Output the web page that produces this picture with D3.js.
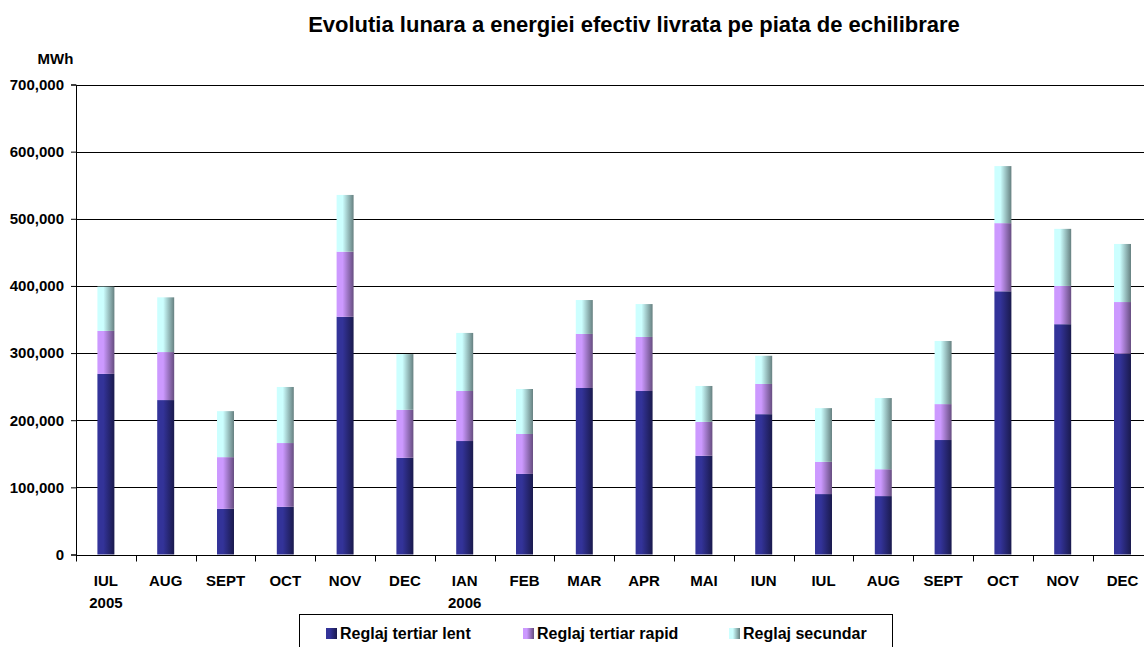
<!DOCTYPE html>
<html>
<head>
<meta charset="utf-8">
<script src="https://cdn.jsdelivr.net/npm/d3@7"></script>
<style>
  body { margin: 0; background: #fff; }
  text { font-family: "Liberation Sans", Arial, sans-serif; font-weight: bold; fill: #000; }
</style>
</head>
<body>
<svg id="chart" width="1144" height="647"></svg>
<script>
// month labels (first line) and year labels (second line)
var months = ["IUL", "AUG", "SEPT", "OCT", "NOV", "DEC", "IAN", "FEB", "MAR",
              "APR", "MAI", "IUN", "IUL", "AUG", "SEPT", "OCT", "NOV", "DEC"];
var years = ["2005", "", "", "", "", "", "2006", "", "", "", "", "", "", "", "", "", "", ""];

// MWh per month
var lent = [269000, 230000, 68000, 71000, 354000, 144000, 169000, 120000, 248000,
            243500, 147000, 209000, 90000, 87000, 170500, 392000, 343000, 299000];
var rapid = [64000, 71500, 77000, 95000, 97000, 71500, 74500, 59500, 80500,
             80500, 50500, 45000, 48000, 40000, 53500, 101500, 57000, 77000];
var secundar = [66000, 81500, 68500, 83500, 84500, 83000, 86500, 67000, 50500,
                49000, 53500, 42000, 80000, 106000, 94000, 85000, 85000, 86500];

var seriesNames = ["Reglaj tertiar lent", "Reglaj tertiar rapid", "Reglaj secundar"];
var yTicks = [0, 100000, 200000, 300000, 400000, 500000, 600000, 700000];

var width = 1144, height = 647;
var margin = { top: 84.5, left: 76, bottom: 554.5, right: 1152.4 };

var svg = d3.select("#chart");

var rows = months.map(function (m, i) {
    return { i: i, lent: lent[i], rapid: rapid[i], secundar: secundar[i] };
});

var keys = ["lent", "rapid", "secundar"];
var stacked = d3.stack().keys(keys)(rows);

var x = d3.scaleBand()
    .domain(d3.range(months.length))
    .range([margin.left, margin.right])
    .paddingInner(0.716)
    .paddingOuter(0.358);

var y = d3.scaleLinear()
    .domain([0, 700000])
    .range([margin.bottom, margin.top]);

// gradient fills, lighter on the left and darker on the right
var colors = { lent: "#333399", rapid: "#cc99ff", secundar: "#ccffff" };
var defs = svg.append("defs");
keys.forEach(function (k) {
    var c = d3.rgb(colors[k]);
    var dark = d3.rgb(c.r / 2, c.g / 2, c.b / 2);
    var g = defs.append("linearGradient").attr("id", "grad-" + k)
        .attr("x1", "0%").attr("x2", "100%").attr("y1", "0%").attr("y2", "0%");
    g.append("stop").attr("offset", "0%").attr("stop-color", c.toString());
    g.append("stop").attr("offset", "35%").attr("stop-color", c.toString());
    g.append("stop").attr("offset", "100%").attr("stop-color", dark.toString());
});

// horizontal gridlines
svg.append("g")
    .selectAll("line")
    .data(yTicks.slice(1))
    .join("line")
    .attr("x1", margin.left)
    .attr("x2", width)
    .attr("y1", d => Math.round(y(d)) + 0.5)
    .attr("y2", d => Math.round(y(d)) + 0.5)
    .attr("stroke", "#000")
    .attr("stroke-width", 1);

// bars
svg.append("g")
    .selectAll("g")
    .data(stacked)
    .join("g")
    .attr("fill", d => "url(#grad-" + d.key + ")")
    .selectAll("rect")
    .data(d => d)
    .join("rect")
    .attr("x", d => x(d.data.i))
    .attr("y", d => y(d[1]))
    .attr("height", d => y(d[0]) - y(d[1]))
    .attr("width", x.bandwidth());

// y axis
var yAxis = svg.append("g")
    .attr("transform", "translate(" + margin.left + ",0)")
    .call(d3.axisLeft(y).tickValues(yTicks).tickFormat(d3.format(",")).tickSize(5).tickPadding(7));
yAxis.select(".domain").attr("stroke", "#000");
yAxis.selectAll("text").style("font-size", "15px").attr("font-family", null);

// x axis with ticks on the category boundaries
var xAxisY = Math.round(margin.bottom) + 0.5;
svg.append("line")
    .attr("x1", margin.left).attr("x2", width)
    .attr("y1", xAxisY).attr("y2", xAxisY)
    .attr("stroke", "#000");
svg.append("g")
    .selectAll("line")
    .data(d3.range(months.length + 1))
    .join("line")
    .attr("x1", d => Math.round(x(d === months.length ? d - 1 : d) - x.step() * x.paddingOuter() + (d === months.length ? x.step() : 0)) + 0.5)
    .attr("x2", d => Math.round(x(d === months.length ? d - 1 : d) - x.step() * x.paddingOuter() + (d === months.length ? x.step() : 0)) + 0.5)
    .attr("y1", xAxisY)
    .attr("y2", xAxisY + 6)
    .attr("stroke", "#000");

var xl = svg.append("g")
    .selectAll("text")
    .data(d3.range(months.length))
    .join("text")
    .attr("x", d => x(d) + x.bandwidth() / 2)
    .attr("text-anchor", "middle")
    .style("font-size", "15px");
xl.append("tspan").attr("x", d => x(d) + x.bandwidth() / 2).attr("y", 586).text(d => months[d]);
xl.append("tspan").attr("x", d => x(d) + x.bandwidth() / 2).attr("y", 607.5).text(d => years[d]);

// title and unit
svg.append("text")
    .attr("x", 634).attr("y", 32)
    .attr("text-anchor", "middle")
    .style("font-size", "22px")
    .text("Evolutia lunara a energiei efectiv livrata pe piata de echilibrare");

svg.append("text")
    .attr("x", 55.5).attr("y", 64)
    .attr("text-anchor", "middle")
    .style("font-size", "15px")
    .text("MWh");

// legend
var legend = svg.append("g");
legend.append("rect")
    .attr("x", 299.5).attr("y", 614.5)
    .attr("width", 593).attr("height", 45)
    .attr("fill", "#fff").attr("stroke", "#000");
var legendX = [326, 523, 729];
keys.forEach(function (k, i) {
    legend.append("rect")
        .attr("x", legendX[i]).attr("y", 628)
        .attr("width", 11).attr("height", 11)
        .attr("fill", "url(#grad-" + k + ")");
    legend.append("text")
        .attr("x", legendX[i] + 14).attr("y", 638.5)
        .style("font-size", "16px")
        .text(seriesNames[i]);
});
</script>
</body>
</html>
